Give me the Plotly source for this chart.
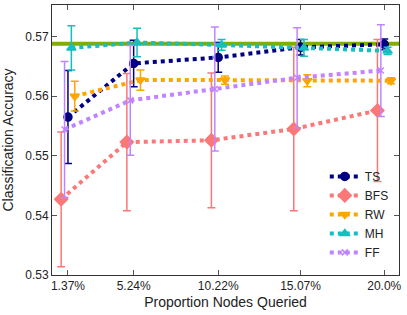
import plotly.graph_objects as go

proportions = [1.37, 5.24, 10.22, 15.07, 20.0]
tick_labels = ["1.37%", "5.24%", "10.22%", "15.07%", "20.0%"]
baseline = 0.5688

ts_mean = [0.5565, 0.5655, 0.5665, 0.5682, 0.5687]
ts_err = [0.0078, 0.0039, 0.0025, 0.0013, 0.0009]
bfs_mean = [0.5427, 0.5523, 0.5526, 0.5545, 0.5576]
bfs_err = [0.0113, 0.0115, 0.0113, 0.0137, 0.0119]
rw_mean = [0.5600, 0.5627, 0.5627, 0.5626, 0.5626]
rw_err = [0.0025, 0.0017, 0.0007, 0.0010, 0.0005]
mh_mean = [0.5681, 0.5690, 0.5686, 0.5681, 0.5676]
mh_err = [0.0037, 0.0024, 0.0009, 0.0014, 0.0006]
ff_mean = [0.5544, 0.5593, 0.5612, 0.5631, 0.5643]
ff_err = [0.0114, 0.0092, 0.0104, 0.0084, 0.0077]

series = [
    ("TS", ts_mean, ts_err, 0.0, "#000080", "circle", 8),
    ("BFS", bfs_mean, bfs_err, -0.4, "#fa7878", "diamond", 10),
    ("RW", rw_mean, rw_err, 0.4, "#ffa500", "triangle-down", 8),
    ("MH", mh_mean, mh_err, 0.2, "#16bfbf", "triangle-up", 8),
    ("FF", ff_mean, ff_err, -0.2, "#c184ff", "x-thin", 6),
]

fig = go.Figure()
fig.add_shape(type="line", xref="paper", x0=0, x1=1, yref="y", y0=baseline, y1=baseline,
              line=dict(color="#7fae00", width=4), layer="below")

for name, mean, err, off, color, sym, size in series:
    xs = [p + off for p in proportions]
    fig.add_trace(go.Scatter(
        x=xs, y=mean, name=name, mode="lines+markers",
        line=dict(color=color, width=4, dash="dot"),
        marker=dict(symbol=sym, size=size, color=color,
                    line=dict(color=color, width=1.5)),
        error_y=dict(type="data", array=err, visible=True, color=color,
                     thickness=1.5, width=4),
    ))

axis_common = dict(showline=True, linecolor="#333333", linewidth=1, mirror="ticks",
                   ticks="inside", ticklen=5, tickcolor="#555555", showgrid=False,
                   zeroline=False, automargin=False,
                   tickfont=dict(family="Liberation Sans, Arial", size=12, color="#222222"))

fig.update_layout(
    width=407, height=315,
    margin=dict(l=52, r=8, t=5, b=40),
    plot_bgcolor="white", paper_bgcolor="white",
    font=dict(family="Liberation Sans, Arial", color="#222222"),
    xaxis=dict(range=[0.43, 20.87], tickvals=proportions, ticktext=tick_labels,
               title=dict(text="Proportion Nodes Queried", font=dict(size=14), standoff=4),
               **axis_common),
    yaxis=dict(range=[0.53, 0.5753], tickvals=[0.53, 0.54, 0.55, 0.56, 0.57],
               tickformat=".2f",
               title=dict(text="Classification Accuracy", font=dict(size=14), standoff=8),
               **axis_common),
    legend=dict(x=0.985, xanchor="right", y=0.03, yanchor="bottom",
                bgcolor="rgba(0,0,0,0)", font=dict(size=12), tracegroupgap=0,
                itemwidth=30),
    showlegend=True,
)

fig.write_html("out.html", config={"displayModeBar": False},
               post_script="document.body.style.margin='0';")
